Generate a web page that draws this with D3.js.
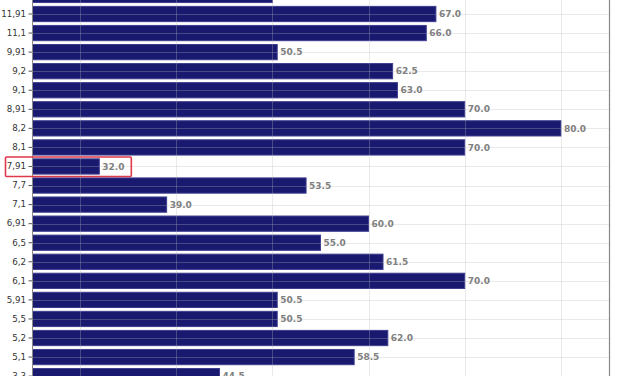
<!DOCTYPE html>
<html>
<head>
<meta charset="utf-8">
<script src="https://cdn.jsdelivr.net/npm/d3@7"></script>
<style>
  html, body { margin: 0; padding: 0; background: #fff; }
  svg { display: block; }
</style>
</head>
<body>
<svg id="chart" width="627" height="376"></svg>
<script>
// ---- data ----
const categories = ["12,1", "11,91", "11,1", "9,91", "9,2", "9,1", "8,91", "8,2", "8,1", "7,91",
  "7,7", "7,1", "6,91", "6,5", "6,2", "6,1", "5,91", "5,5", "5,2", "5,1", "3,3"];
const values = [50.0, 67.0, 66.0, 50.5, 62.5, 63.0, 70.0, 80.0, 70.0, 32.0,
  53.5, 39.0, 60.0, 55.0, 61.5, 70.0, 50.5, 50.5, 62.0, 58.5, 44.5];
const xTicks = [30, 40, 50, 60, 70, 80];
const xDomain = [25, 85];
const highlighted = "7,91";

const svg = d3.select("#chart");
const left = 32, right = 609;
const step = 19.06;
const yTop = -5.06 - step / 2;

const x = d3.scaleLinear().domain(xDomain).range([left, right]);
const y = d3.scaleBand().domain(categories)
  .range([yTop, yTop + step * categories.length])
  .paddingInner(0.2).paddingOuter(0.1);

svg.append("defs").append("clipPath").attr("id", "plot")
  .append("rect").attr("x", left).attr("y", -50).attr("width", right - left).attr("height", 500);

const plot = svg.append("g").attr("clip-path", "url(#plot)");

// bars
plot.selectAll("rect.bar").data(categories).join("rect")
  .attr("class", "bar")
  .attr("x", x(0))
  .attr("y", d => y(d))
  .attr("width", (d, i) => x(values[i]) - x(0))
  .attr("height", y.bandwidth())
  .attr("fill", "#191970")
  .attr("stroke", "#3d3d8f")
  .attr("stroke-width", 1);

// grid on top
const grid = svg.append("g").attr("stroke", "#b8b8b8").attr("stroke-opacity", 0.3).attr("stroke-width", 1);
grid.selectAll("line.v").data(xTicks).join("line")
  .attr("class", "v")
  .attr("x1", d => Math.round(x(d)) + 0.5).attr("x2", d => Math.round(x(d)) + 0.5)
  .attr("y1", 0).attr("y2", 376);
grid.selectAll("line.h").data(categories).join("line")
  .attr("class", "h")
  .attr("x1", left).attr("x2", right)
  .attr("y1", d => Math.round(y(d) + y.bandwidth() / 2) + 0.5)
  .attr("y2", d => Math.round(y(d) + y.bandwidth() / 2) + 0.5);

// value labels
svg.append("g").selectAll("text").data(categories).join("text")
  .attr("x", (d, i) => x(values[i]) + 3)
  .attr("y", d => y(d) + y.bandwidth() / 2)
  .attr("dy", "0.35em")
  .attr("font-family", "DejaVu Sans")
  .attr("font-weight", "bold")
  .attr("font-size", 9)
  .attr("fill", "#808080")
  .text((d, i) => values[i].toFixed(1));

// y axis
const yAxis = d3.axisLeft(y).tickSize(3.5).tickPadding(2.5);
const ga = svg.append("g").attr("transform", `translate(${left},0)`).call(yAxis);
ga.select(".domain").attr("stroke", "#888").attr("stroke-width", 1);
ga.selectAll(".tick line").attr("stroke", "#555");
ga.selectAll(".tick text").attr("font-family", "DejaVu Sans").attr("font-size", 8.7).attr("fill", "#333");

// right spine
svg.append("line").attr("x1", right + 0.5).attr("x2", right + 0.5).attr("y1", 0).attr("y2", 376)
  .attr("stroke", "#888").attr("stroke-width", 1.2);

// highlight box
const hy = y(highlighted) + y.bandwidth() / 2;
const hi = categories.indexOf(highlighted);
svg.append("rect")
  .attr("x", 5.5)
  .attr("y", hy - 9.5)
  .attr("width", x(values[hi]) + 32 - 5.5)
  .attr("height", 19.5)
  .attr("rx", 1)
  .attr("fill", "none")
  .attr("stroke", "#e0394a")
  .attr("stroke-width", 1.6);
</script>
</body>
</html>
